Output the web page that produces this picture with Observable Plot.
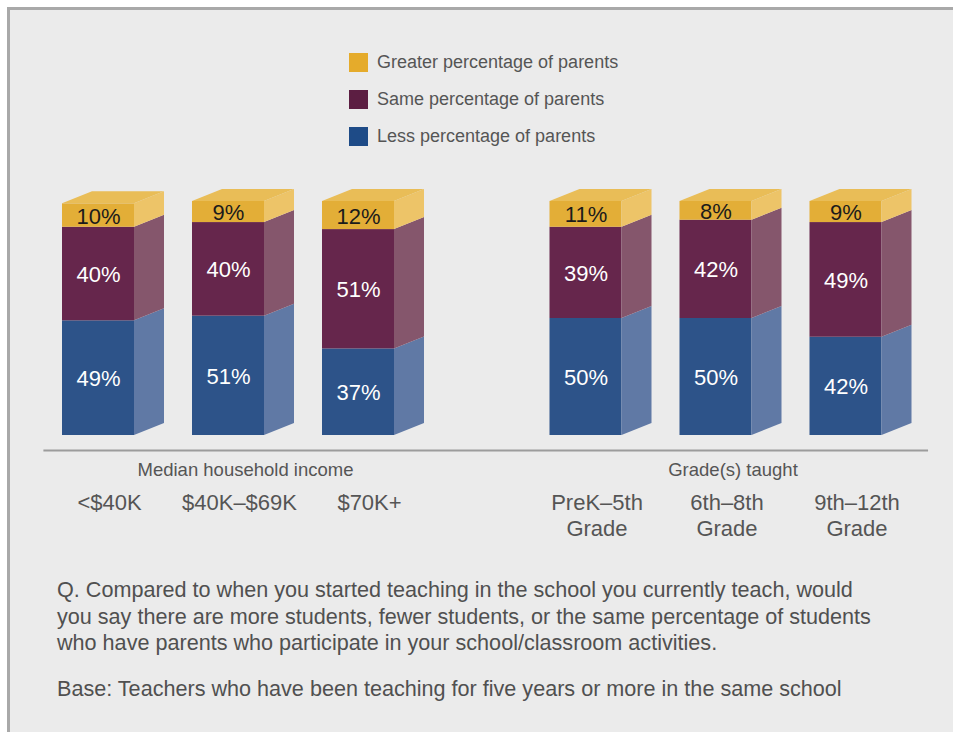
<!DOCTYPE html>
<html>
<head>
<meta charset="utf-8">
<script src="https://cdn.jsdelivr.net/npm/d3@7"></script>
<script src="https://cdn.jsdelivr.net/npm/@observablehq/plot@0.6"></script>
<style>
  html, body { margin: 0; padding: 0; background: #ffffff; overflow: hidden; width: 953px; height: 732px; }
  body { font-family: "Liberation Sans", Arial, sans-serif; color: #555; }
  #panel { position: absolute; left: 7px; top: 7px; width: 1000px; height: 800px; background: #ebebeb;
           border-left: 3px solid #a9a9a9; border-top: 3px solid #a9a9a9; box-sizing: border-box; }
  #chart { position: absolute; left: 0; top: 0; }
  .leg { position: absolute; left: 349px; height: 20px; display: flex; align-items: center; font-size: 18px; color: #555; white-space: nowrap; }
  .leg span.sw { width: 19px; height: 19px; margin-right: 9px; display: inline-block; }
  .cap { position: absolute; left: 57px; font-size: 21.6px; line-height: 26.5px; color: #505050; margin: 0; white-space: nowrap; }
</style>
</head>
<body>
<div id="panel"></div>
<div id="legend"></div>
<div id="chart"></div>
<p class="cap" style="top:577px">Q. Compared to when you started teaching in the school you currently teach, would<br>you say there are more students, fewer students, or the same percentage of students<br>who have parents who participate in your school/classroom activities.</p>
<p class="cap" style="top:676px">Base: Teachers who have been teaching for five years or more in the same school</p>
<script>
// ---- data ----
const groups = ["Median household income", "Grade(s) taught"];
const categories = ["<$40K", "$40K–$69K", "$70K+", "PreK–5th\nGrade", "6th–8th\nGrade", "9th–12th\nGrade"];
const categoryGroup = [0, 0, 0, 1, 1, 1];
const series = ["Less percentage of parents", "Same percentage of parents", "Greater percentage of parents"];
const lessPct = [49, 51, 37, 50, 50, 42];
const samePct = [40, 40, 51, 39, 42, 49];
const greaterPct = [10, 9, 12, 11, 8, 9];
const legendOrder = [2, 1, 0];

// ---- styles ----
const frontColors = ["#2d5389", "#66264c", "#e3ae37"];
const sideColors = ["#6079a5", "#85566c", "#edc468"];
const topColor = "#e9bd57";
const legendColors = ["#1e4b87", "#5c1e42", "#e5ab2b"];
const labelColors = ["#ffffff", "#ffffff", "#1b1b1b"];

const W = 72 / 130;   // front face width (slot units)
const DX = 30 / 130;  // depth offset x
const DY = 12 / 2.34; // depth offset y (percent units)
const GROUP_GAP = 0.75;

const seriesVals = [lessPct, samePct, greaterPct];
const rows = [];
categories.forEach((c, i) => {
  let base = 0;
  seriesVals.forEach((vals, s) => {
    rows.push({id: i + "-" + s, cat: c, slot: i + categoryGroup[i] * GROUP_GAP, s, value: vals[i], y0: base, y1: base + vals[i], top: s === seriesVals.length - 1});
    base += vals[i];
  });
});
const sideData = rows.flatMap(r => [
  {id: r.id, s: r.s, x: r.slot + W / 2, lo: r.y0, hi: r.y1},
  {id: r.id, s: r.s, x: r.slot + W / 2 + DX, lo: r.y0 + DY, hi: r.y1 + DY}
]);
const topData = rows.filter(r => r.top).flatMap(r => [
  {id: r.id, y: r.y1, a: r.slot - W / 2, b: r.slot + W / 2},
  {id: r.id, y: r.y1 + DY, a: r.slot - W / 2 + DX, b: r.slot + W / 2 + DX}
]);
const catData = categories.map((c, i) => ({c, slot: i + categoryGroup[i] * GROUP_GAP, y: 0}));
const groupData = groups.map((g, gi) => {
  const slots = catData.filter((d, i) => categoryGroup[i] === gi).map(d => d.slot);
  return {g, slot: (d3.min(slots) + d3.max(slots)) / 2, y: 0};
});
const slotsAll = catData.map(d => d.slot);
const baseline = [{y: 0, a: d3.min(slotsAll) - 0.42, b: d3.max(slotsAll) + 0.635}];

const marks = [];
series.forEach((name, s) => {
  marks.push(Plot.rect(rows.filter(r => r.s === s), {
    x1: d => d.slot - W / 2, x2: d => d.slot + W / 2, y1: "y0", y2: "y1", fill: frontColors[s]
  }));
  marks.push(Plot.areaY(sideData.filter(d => d.s === s), {x: "x", y1: "lo", y2: "hi", z: "id", fill: sideColors[s]}));
});
marks.push(Plot.areaX(topData, {y: "y", x1: "a", x2: "b", z: "id", fill: topColor}));
series.forEach((name, s) => {
  marks.push(Plot.text(rows.filter(r => r.s === s), {
    x: "slot", y: d => (d.y0 + d.y1) / 2, text: d => d.value + "%",
    fill: labelColors[s], fontSize: 22, dy: 1
  }));
});
marks.push(Plot.ruleY(baseline, {y: "y", x1: "a", x2: "b", dy: 15, stroke: "#9c9c9c", strokeWidth: 2}));
marks.push(Plot.text(groupData, {x: "slot", y: "y", text: "g", dy: 35, dx: 17, fontSize: 18.5, fill: "#555"}));
marks.push(Plot.text(catData, {x: "slot", y: "y", text: "c", dy: 56, dx: 11, fontSize: 22, fill: "#555", lineAnchor: "top", lineHeight: 1.18}));

const chart = Plot.plot({
  width: 953,
  height: 732,
  margin: 0,
  x: {type: "linear", domain: [0, 5.75], range: [98, 845.5], axis: null},
  y: {type: "linear", domain: [0, 100], range: [435, 201], axis: null},
  style: {background: "transparent", fontFamily: "'Liberation Sans', Arial, sans-serif", overflow: "visible"},
  marks
});
document.getElementById("chart").appendChild(chart);

// legend
const leg = document.getElementById("legend");
legendOrder.forEach((s, k) => {
  const div = document.createElement("div");
  div.className = "leg";
  div.style.top = (52 + k * 37) + "px";
  div.innerHTML = `<span class="sw" style="background:${legendColors[s]}"></span><span>${series[s]}</span>`;
  leg.appendChild(div);
});
</script>
</body>
</html>
